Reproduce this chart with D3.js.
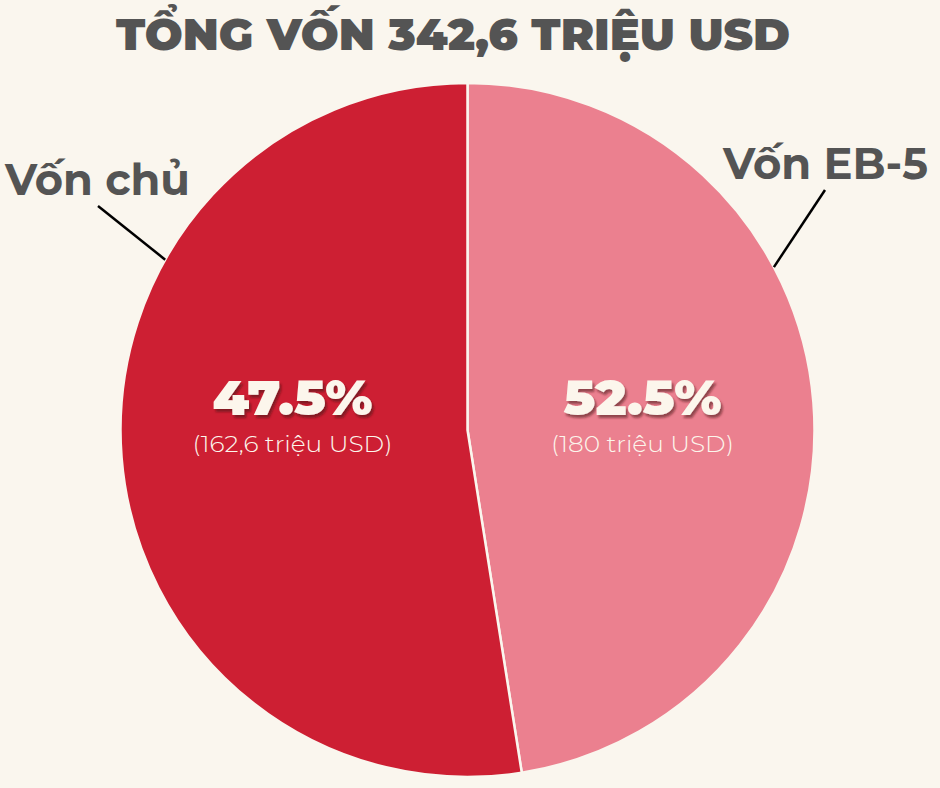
<!DOCTYPE html>
<html><head><meta charset="utf-8">
<script src="https://cdn.jsdelivr.net/npm/d3@7"></script>
<style>html,body{margin:0;padding:0;background:#faf6ee;}svg{display:block;}</style>
</head><body>
<script>
// Data
const title = "TỔNG VỐN 342,6 TRIỆU USD";
const categories = ["Vốn EB-5", "Vốn chủ"];
const percentLabels = ["52.5%", "47.5%"];
const amountLabels = ["(180 triệu USD)", "(162,6 triệu USD)"];
// slice sizes as drawn in the picture (share of the circle, %)
const sliceShares = [47.5, 52.5];
const colors = ["#eb808f", "#cd1f33"];

const W = 940, H = 788;
const cx = 467.5, cy = 430, R = 347;
const FONT = "Montserrat, Inter, 'Open Sans', sans-serif";

const svg = d3.select("body").append("svg").attr("width", W).attr("height", H);
svg.append("rect").attr("width", W).attr("height", H).attr("fill", "#faf6ee");

const defs = svg.append("defs");
const f = defs.append("filter").attr("id", "sh").attr("x", "-20%").attr("y", "-20%").attr("width", "140%").attr("height", "150%");
f.append("feDropShadow").attr("dx", 2).attr("dy", 3).attr("stdDeviation", 1.2)
  .attr("flood-color", "#4a0e16").attr("flood-opacity", 0.55);

svg.append("text").attr("x", 453).attr("y", 50)
  .attr("text-anchor", "middle").attr("font-family", FONT).attr("font-weight", 900)
  .attr("font-size", 44).attr("fill", "#545454")
  .attr("textLength", 674).attr("lengthAdjust", "spacingAndGlyphs")
  .text(title);

const pie = d3.pie().sort(null).value(d => d);
const arcs = pie(sliceShares);
const arc = d3.arc().innerRadius(0).outerRadius(R);
const g = svg.append("g").attr("transform", `translate(${cx},${cy})`);
g.selectAll("path.slice").data(arcs).join("path").attr("class", "slice")
  .attr("d", arc).attr("fill", (d, i) => colors[i])
  .attr("stroke", "#faf6ee").attr("stroke-width", 2.5).attr("stroke-linejoin", "round");

// labels inside
const labelX = [175, -175];
const pctLen = [158, 160];
const amtLen = [183, 200];
arcs.forEach((d, i) => {
  const lx = labelX[i];
  g.append("text").attr("x", lx).attr("y", -15)
    .attr("text-anchor", "middle").attr("font-family", FONT).attr("font-weight", 900)
    .attr("font-size", 48).attr("fill", "#fcf6ec").attr("filter", "url(#sh)")
    .attr("textLength", pctLen[i]).attr("lengthAdjust", "spacingAndGlyphs")
    .text(percentLabels[i]);
  g.append("text").attr("x", lx).attr("y", 22)
    .attr("text-anchor", "middle").attr("font-family", FONT).attr("font-weight", 300)
    .attr("font-size", 22).attr("fill", "#fcf6ec")
    .attr("textLength", amtLen[i]).attr("lengthAdjust", "spacingAndGlyphs")
    .text(amountLabels[i]);
});

// leader lines & category labels
const leaders = [
  {a: 62, len: 92, tx: 825.5, ty: 179, tl: 205},
  {a: -60.6, len: 87, tx: 97.5, ty: 195, tl: 185}
];
leaders.forEach((L, i) => {
  const t = L.a * Math.PI / 180;
  const x1 = cx + R * Math.sin(t), y1 = cy - R * Math.cos(t);
  const ang = Math.atan2(y1 - (i === 0 ? 190 : 206), x1 - (i === 0 ? 825 : 98));
  const x2 = i === 0 ? 825 : 98, y2 = i === 0 ? 190 : 206;
  svg.append("line").attr("x1", x1).attr("y1", y1).attr("x2", x2).attr("y2", y2)
    .attr("stroke", "#000").attr("stroke-width", 2.5);
  svg.append("text").attr("x", L.tx).attr("y", L.ty)
    .attr("text-anchor", "middle").attr("font-family", FONT).attr("font-weight", 700)
    .attr("font-size", 44).attr("fill", "#545454")
    .attr("textLength", L.tl).attr("lengthAdjust", "spacingAndGlyphs")
    .text(categories[i]);
});
</script>
</body></html>
